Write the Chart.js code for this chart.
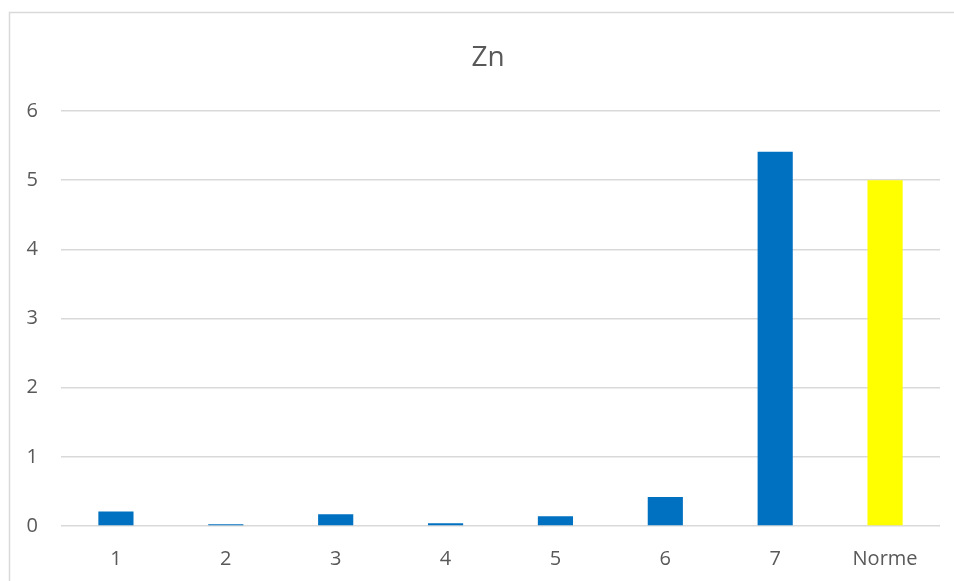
<!DOCTYPE html>
<html>
<head>
<meta charset="utf-8">
<script src="https://cdn.jsdelivr.net/npm/chart.js@4/dist/chart.umd.min.js"></script>
<style>
  html, body { margin: 0; padding: 0; background: #ffffff; }
  #wrap { width: 954px; height: 581px; position: relative; }
</style>
</head>
<body>
<div id="wrap"><canvas id="c" width="954" height="581"></canvas></div>
<script>
const categories = ['1', '2', '3', '4', '5', '6', '7', 'Norme'];
const znValues = [0.21, 0.025, 0.17, 0.04, 0.14, 0.42, 5.41, 5];
const yTicks = [0, 1, 2, 3, 4, 5, 6];
const chartTitle = 'Zn';

const borderPlugin = {
  id: 'outerBorder',
  afterLayout(chart) {
    // centre the title over the whole framed chart box, as in the original
    if (chart.titleBlock) {
      chart.titleBlock.left = 22;
      chart.titleBlock.right = 954;
      chart.titleBlock.width = 932;
    }
  },
  beforeDraw(chart) {
    const ctx = chart.ctx;
    ctx.save();
    ctx.strokeStyle = '#d9d9d9';
    ctx.lineWidth = 1.5;
    ctx.beginPath();
    ctx.moveTo(9.5, chart.height);
    ctx.lineTo(9.5, 12.5);
    ctx.lineTo(chart.width, 12.5);
    ctx.stroke();
    ctx.restore();
  }
};

new Chart(document.getElementById('c'), {
  type: 'bar',
  data: {
    labels: categories,
    datasets: [{
      label: chartTitle,
      data: znValues,
      backgroundColor: (ctx) => categories[ctx.dataIndex] === 'Norme' ? '#FFFF00' : '#0070C0',
      borderWidth: 0,
      barPercentage: 0.32,
      categoryPercentage: 1.0
    }]
  },
  options: {
    responsive: false,
    animation: false,
    layout: { padding: { left: 0, right: 14, top: 0, bottom: 10 } },
    plugins: {
      legend: { display: false },
      tooltip: { enabled: false },
      title: {
        display: true,
        text: chartTitle,
        color: '#595959',
        font: { family: 'Open Sans', size: 28, weight: 'normal' },
        padding: { top: 41, bottom: 36.4 }
      }
    },
    scales: {
      x: {
        grid: { display: false, drawTicks: false },
        border: { display: false },
        afterFit: (axis) => { axis.height = 45; },
        ticks: {
          color: '#595959',
          font: { family: 'Open Sans', size: 20 },
          padding: 21,
          maxRotation: 0
        }
      },
      y: {
        min: 0,
        max: 6,
        afterBuildTicks: (axis) => { axis.ticks = yTicks.map(v => ({ value: v })); },
        afterFit: (axis) => { axis.width = 61; },
        grid: { color: '#d9d9d9', lineWidth: 1.5, drawTicks: false },
        border: { display: false },
        ticks: {
          color: '#595959',
          font: { family: 'Open Sans', size: 20 },
          padding: 23
        }
      }
    }
  },
  plugins: [borderPlugin]
});
</script>
</body>
</html>
